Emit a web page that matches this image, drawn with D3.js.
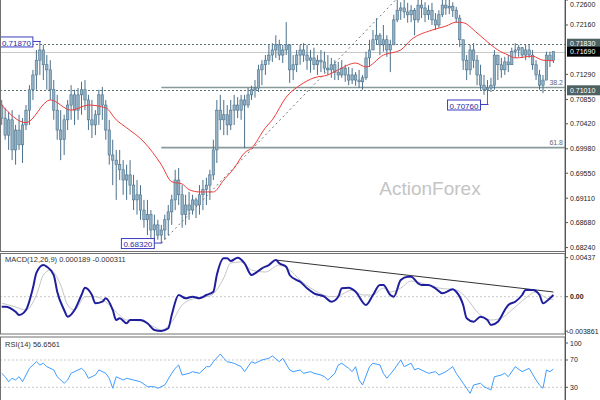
<!DOCTYPE html>
<html><head><meta charset="utf-8">
<script src="https://cdn.jsdelivr.net/npm/d3@7"></script>
<style>
  html,body{margin:0;padding:0;background:#fff;}
  svg{display:block;font-family:"Liberation Sans",Arial,sans-serif;}
</style></head>
<body>
<svg id="chart" width="600" height="400"></svg>
<script>
/* ---------- DATA ---------- */
const firstOpen = 0.7075;
const highs = [
 .7084,.7070,.7063,.7066,.7040,.7058,.7052,.7075,.7110,.7137,
 .7172,.7187,.7181,.7163,.7154,.7119,.7093,.7066,.7058,.7084,
 .7110,.7102,.7105,.7116,.7119,.7093,.7084,.7066,.7102,.7107,
 .7084,.7049,.7014,.6996,.6996,.6978,.6970,.6978,.6952,.6943,
 .6934,.6908,.6908,.6890,.6882,.6873,.6864,.6882,.6899,.6917,
 .6961,.6964,.6934,.6917,.6922,.6917,.6912,.6934,.6943,.6947,
 .6961,.7014,.7084,.7093,.7084,.7075,.7084,.7093,.7089,.7093,
 .7093,.7105,.7109,.7119,.7146,.7154,.7163,.7181,.7184,.7198,
 .7190,.7181,.7221,.7172,.7163,.7172,.7181,.7184,.7181,.7172,
 .7176,.7163,.7172,.7169,.7163,.7158,.7154,.7151,.7154,.7146,
 .7142,.7140,.7133,.7137,.7128,.7169,.7190,.7207,.7228,.7202,
 .7216,.7198,.7190,.7234,.7260,.7256,.7263,.7255,.7251,.7246,
 .7262,.7265,.7256,.7251,.7255,.7237,.7242,.7264,.7268,.7266,
 .7256,.7248,.7234,.7190,.7163,.7181,.7184,.7163,.7146,.7128,
 .7119,.7123,.7172,.7163,.7158,.7160,.7163,.7176,.7184,.7181,
 .7177,.7181,.7181,.7172,.7154,.7137,.7128,.7169,.7169,.7169];
const lows = [
 .7040,.7014,.6996,.6978,.6970,.6996,.6973,.7031,.7040,.7084,
 .7102,.7128,.7119,.7102,.7084,.7049,.7014,.6978,.6987,.7031,
 .7049,.7040,.7049,.7058,.7066,.7031,.7017,.7022,.7040,.7049,
 .7014,.6970,.6934,.6908,.6943,.6917,.6908,.6917,.6890,.6882,
 .6873,.6859,.6846,.6841,.6834,.6838,.6832,.6838,.6846,.6864,
 .6890,.6899,.6859,.6864,.6873,.6882,.6876,.6882,.6890,.6899,
 .6908,.6943,.6973,.7031,.7022,.7022,.7031,.7040,.7052,.7049,
 .6999,.7070,.7084,.7088,.7098,.7110,.7128,.7146,.7151,.7158,
 .7154,.7149,.7163,.7114,.7119,.7133,.7146,.7151,.7137,.7132,
 .7137,.7128,.7133,.7132,.7128,.7123,.7119,.7119,.7123,.7116,
 .7110,.7112,.7109,.7105,.7102,.7119,.7142,.7172,.7181,.7163,
 .7169,.7160,.7133,.7181,.7221,.7225,.7228,.7220,.7221,.7198,
 .7220,.7228,.7221,.7225,.7216,.7207,.7211,.7230,.7234,.7235,
 .7230,.7220,.7177,.7137,.7119,.7128,.7140,.7110,.7102,.7093,
 .7076,.7098,.7102,.7119,.7123,.7128,.7133,.7151,.7158,.7160,
 .7158,.7154,.7158,.7137,.7119,.7102,.7096,.7119,.7142,.7149];
const closes = [
 .7052,.7022,.7049,.6996,.7031,.7005,.7040,.7066,.7102,.7128,
 .7154,.7172,.7146,.7137,.7102,.7066,.7031,.7014,.7049,.7075,
 .7093,.7066,.7093,.7102,.7084,.7049,.7040,.7058,.7093,.7075,
 .7031,.6987,.6978,.6970,.6961,.6943,.6952,.6934,.6908,.6917,
 .6890,.6873,.6882,.6855,.6864,.6846,.6855,.6873,.6887,.6908,
 .6943,.6917,.6882,.6899,.6890,.6908,.6899,.6917,.6926,.6934,
 .6952,.6996,.7066,.7049,.7058,.7040,.7066,.7075,.7066,.7084,
 .7075,.7093,.7102,.7105,.7137,.7146,.7154,.7163,.7172,.7181,
 .7163,.7172,.7181,.7137,.7146,.7163,.7172,.7163,.7154,.7158,
 .7146,.7154,.7151,.7140,.7137,.7146,.7133,.7128,.7140,.7128,
 .7119,.7128,.7119,.7116,.7123,.7158,.7172,.7190,.7198,.7181,
 .7190,.7172,.7181,.7225,.7242,.7246,.7239,.7234,.7242,.7225,
 .7251,.7246,.7234,.7242,.7225,.7216,.7234,.7251,.7246,.7249,
 .7242,.7228,.7190,.7154,.7137,.7172,.7154,.7128,.7110,.7102,
 .7105,.7110,.7163,.7146,.7137,.7151,.7146,.7169,.7172,.7176,
 .7163,.7172,.7163,.7146,.7128,.7110,.7119,.7163,.7154,.7169];

// moving average (bar index, price)
const maPts = [[0,.7075],[7,.7044],[14,.7084],[20,.7066],[25,.7075],[30,.7070],[33,.7049],[36,.7035],
 [41,.7010],[46,.6970],[49,.6940],[52,.6936],[54,.6926],[57,.6922],[61,.6922],[64,.6943],[67,.6964],
 [70,.6991],[72,.6999],[76,.7035],[78,.7049],[82,.7089],[86,.7110],[90,.7123],[94,.7128],[97,.7137],
 [102,.7149],[105,.7142],[110,.7163],[115,.7172],[118,.7190],[124,.7207],[128,.7214],[131,.7221],
 [133,.7220],[137,.7202],[141,.7181],[143,.7172],[146,.7163],[148,.7158],[153,.7161],[156,.7154],[159,.7153]];

const macdPts = [[0,-.00112],[1,-.00112],[4,-.00168],[5,-.00205],[7,-.00149],[9,.00097],[10,.00266],
 [12,.00355],[13,.00336],[15,.00243],[16,.00056],[18,-.00149],[19,-.00224],[21,-.00149],[23,.00019],
 [24,.00101],[26,.00019],[27,-.00074],[29,-.00056],[30,-.00018],[32,-.00149],[33,-.00261],[34,-.00242],
 [36,-.00298],[37,-.00261],[40,-.00261],[42,-.00298],[44,-.00373],[46,-.00384],[48,-.00354],[49,-.00205],
 [51,.00019],[53,-.00018],[55,0],[57,-.00018],[59,.00019],[61,.00056],[62,.00243],[64,.0043],[65,.0043],
 [66,.0040],[68,.00437],[70,.00374],[72,.00243],[73,.00262],[75,.00318],[77,.00355],[79,.00411],
 [80,.00374],[82,.00336],[83,.00243],[85,.00187],[86,.00168],[88,.00094],[90,.00038],[93,0],[95,-.00056],
 [97,0],[98,.00094],[100,.00101],[102,.00056],[105,-.00093],[107,.00019],[109,.00131],[110,.00131],
 [112,.00019],[113,0],[115,.00187],[117,.00224],[118,.00224],[120,.0015],[121,.00131],[123,.00131],
 [125,.00094],[127,.00038],[130,.00083],[131,.00056],[133,-.00093],[134,-.00242],[136,-.0028],
 [138,-.00224],[140,-.00261],[141,-.00317],[143,-.0028],[145,-.00149],[146,-.00093],[148,-.00056],
 [150,.00019],[151,.00075],[153,.00075],[155,.00019],[156,-.00074],[158,-.00018],[159,.000189]];
const signalPts = [[0,-.00071],[4,-.00115],[7,-.00149],[10,.00019],[12,.00243],[14,.00299],[17,.00131],
 [19,-.00093],[21,-.00149],[24,0],[27,0],[30,-.00059],[33,-.00171],[36,-.00261],[40,-.00272],[44,-.0034],
 [46,-.00373],[49,-.00283],[52,-.00093],[56,-.00015],[60,.00008],[64,.0021],[66,.00378],[69,.00389],
 [72,.00299],[76,.00277],[80,.00355],[83,.00299],[86,.00187],[90,.00075],[95,0],[97,.00008],[101,.00075],
 [104,.00019],[107,.00019],[110,.00097],[112,.00053],[115,.00097],[118,.00176],[122,.00142],[126,.00097],
 [131,.00075],[134,-.00015],[137,-.0017],[141,-.00261],[144,-.00239],[147,-.00149],[151,-.00015],
 [154,.00053],[157,-.00015],[159,-.000311]];
const macdTrend = [[79,.00411],[159,.00053]];

const rsiPts = [[0,50.5],[1,45.5],[2,38.2],[3,43.2],[4,40.7],[5,45.5],[6,38.2],[7,48.0],[8,57.8],[9,62.7],
 [10,67.5],[11,62.7],[12,65.2],[13,60.2],[15,55.4],[16,45.5],[18,35.9],[19,40.7],[20,50.5],[22,55.4],
 [23,57.8],[24,52.9],[25,43.2],[27,48.0],[28,55.4],[30,50.5],[31,43.2],[32,28.6],[33,45.5],[35,40.7],
 [36,43.2],[38,40.7],[40,38.2],[42,30.9],[44,30.9],[45,28.6],[47,33.4],[49,50.5],[50,57.8],[51,62.7],
 [52,48.0],[54,50.5],[55,52.9],[57,50.5],[59,60.2],[60,60.2],[61,67.5],[63,78.8],[64,72.5],[65,67.5],
 [67,65.2],[69,60.2],[70,52.9],[72,67.5],[73,65.2],[75,70],[77,72.5],[78,75.9],[80,67.5],[81,72.5],
 [83,55.4],[84,52.9],[86,55.4],[87,50.5],[89,52.9],[90,50.5],[92,48.0],[93,45.5],[94,40.7],[96,50.5],
 [97,62.7],[98,65.2],[100,57.8],[101,52.9],[102,60.2],[103,40.7],[104,33.4],[106,60.2],[107,65.2],
 [109,62.7],[110,50.5],[111,43.2],[113,55.4],[115,70],[116,60.2],[118,65.2],[119,55.4],[120,57.8],
 [122,52.9],[123,50.5],[125,52.9],[126,48.0],[128,52.9],[130,60.2],[131,50.5],[133,35.9],[134,28.6],
 [135,21.2],[136,33.4],[138,35.9],[139,30.9],[141,26.1],[142,45.5],[144,48.0],[145,50.5],[146,45.5],
 [148,60.2],[150,52.9],[152,57.8],[154,40.7],[155,33.4],[156,28.6],[157,55.4],[158,52.9],[159,56.66]];

const priceTicks = [0.72600,0.72160,0.71290,0.70850,0.70420,0.69980,0.69550,0.69110,0.68680,0.68240];
const dashedLevels = [0.71830,0.71010];
const lastPrice = 0.71690;
const fibLevels = [["38.2",0.7106],["61.8",0.7000]];
const fibStartBar = 46;
const trendPts = [[46,0.6832],[114,0.7263]];
const swingLabels = [[11,0.7187,"0.71870"],[46,0.6832,"0.68320"],[140,0.7076,"0.70760"]];
const macdTicks = [["0.00437",0.00437],["0.00",0],["-0.003861",-0.003861]];
const rsiTicks = [100,70,30];
const rsiLevels = [70,30];
const macdTitle = "MACD(12,26,9) 0.000189 -0.000311";
const rsiTitle  = "RSI(14) 56.6561";

/* ---------- LAYOUT ---------- */
const AX = 565;                       // right price axis
const P_MAIN=[0,251], P_MACD=[253,333.5], P_RSI=[336.5,400];

const svg = d3.select("#chart");
const x   = d3.scaleLinear().domain([0,closes.length-1]).range([1.7,553.4]);
const yP  = d3.scaleLinear().domain([0.6818,0.7260]).range([251,0]);
const yM  = d3.scaleLinear().domain([-0.00418,0.00501]).range([334,252]);
const yR  = d3.scaleLinear().domain([0,100]).range([407.8,339.5]);

const defs = svg.append("defs");
[["cMain",P_MAIN],["cMacd",P_MACD],["cRsi",P_RSI]].forEach(([id,[a,b]])=>{
  defs.append("clipPath").attr("id",id).append("rect")
    .attr("x",1).attr("y",a).attr("width",AX-1).attr("height",b-a);
});

/* ---------- MAIN PANEL ---------- */
const gM = svg.append("g").attr("clip-path","url(#cMain)");

gM.append("text").attr("x",430).attr("y",195).attr("text-anchor","middle")
  .style("font-size","19px").attr("fill","#c4c4c4").text("ActionForex");

gM.selectAll("line.dlev").data(dashedLevels).join("line").attr("class","dlev")
  .attr("x1",0).attr("x2",AX).attr("y1",d=>Math.round(yP(d))+.5).attr("y2",d=>Math.round(yP(d))+.5)
  .attr("stroke","#5a7272").attr("stroke-dasharray","2,2");

gM.append("line").attr("x1",0).attr("x2",AX)
  .attr("y1",Math.round(yP(lastPrice))+.5).attr("y2",Math.round(yP(lastPrice))+.5)
  .attr("stroke","#c8c8c8");

gM.selectAll("line.fib").data(fibLevels).join("line").attr("class","fib")
  .attr("x1",x(fibStartBar)).attr("x2",AX).attr("y1",d=>yP(d[1])).attr("y2",d=>yP(d[1]))
  .attr("stroke","#889a9a").attr("stroke-width",1.6);
gM.selectAll("text.fib").data(fibLevels).join("text").attr("class","fib")
  .attr("x",AX-2).attr("y",d=>yP(d[1])-2.5).attr("text-anchor","end")
  .style("font-size","7px").attr("fill","#667").text(d=>d[0]);

gM.append("line")
  .attr("x1",x(trendPts[0][0])).attr("y1",yP(trendPts[0][1]))
  .attr("x2",x(trendPts[1][0])).attr("y2",yP(trendPts[1][1]))
  .attr("stroke","#777").attr("stroke-dasharray","2,3");

/* candles: open = previous close */
const bars = closes.map((c,i)=>({i,o:i?closes[i-1]:firstOpen,h:highs[i],l:lows[i],c}));
gM.selectAll("line.wick").data(bars).join("line").attr("class","wick")
  .attr("x1",d=>x(d.i)).attr("x2",d=>x(d.i))
  .attr("y1",d=>yP(Math.max(d.h,d.o,d.c))).attr("y2",d=>yP(Math.min(d.l,d.o,d.c)))
  .attr("stroke","#4b718b").attr("stroke-width",1);
gM.selectAll("rect.body").data(bars).join("rect").attr("class","body")
  .attr("x",d=>x(d.i)-1.2).attr("width",2.4)
  .attr("y",d=>yP(Math.max(d.o,d.c)))
  .attr("height",d=>Math.max(1,Math.abs(yP(d.o)-yP(d.c))))
  .attr("fill","#93b2c6").attr("stroke","#4b718b").attr("stroke-width",0.6);

gM.append("path").datum(maPts)
  .attr("d",d3.line().curve(d3.curveMonotoneX).x(d=>x(d[0])).y(d=>yP(d[1])))
  .attr("fill","none").attr("stroke","#f03c3c").attr("stroke-width",1);

/* swing labels */
swingLabels.forEach(([i,p,t])=>{
  const right=x(i)-7, yy=yP(p);
  gM.append("line").attr("x1",right).attr("x2",x(i)+1).attr("y1",yy).attr("y2",yy)
    .attr("stroke","#3c3cc0");
  const tx=gM.append("text").attr("x",right-2).attr("y",yy+4.2).attr("text-anchor","end")
    .style("font-size","8px").attr("fill","#2a2aa0").text(t);
  const w=tx.node().getComputedTextLength();
  gM.insert("rect","text:last-of-type").attr("x",right-w-4).attr("y",yy-4.5)
    .attr("width",w+4).attr("height",10).attr("fill","#fff").attr("stroke","#3c3cc0");
  tx.raise();
});

/* ---------- MACD PANEL ---------- */
const gD = svg.append("g").attr("clip-path","url(#cMacd)");
gD.append("line").attr("x1",0).attr("x2",AX).attr("y1",yM(0)).attr("y2",yM(0))
  .attr("stroke","#c8c8c8").attr("stroke-dasharray","2,2");
const lnM = d3.line().curve(d3.curveMonotoneX).x(d=>x(d[0])).y(d=>yM(d[1]));
gD.append("path").datum(signalPts).attr("d",lnM)
  .attr("fill","none").attr("stroke","#c4c4c4").attr("stroke-width",1);
gD.append("path").datum(macdTrend).attr("d",d3.line().x(d=>x(d[0])).y(d=>yM(d[1])))
  .attr("fill","none").attr("stroke","#333").attr("stroke-width",1);
gD.append("path").datum(macdPts).attr("d",lnM)
  .attr("fill","none").attr("stroke","#1f1f9e").attr("stroke-width",2);
svg.append("text").attr("x",5).attr("y",262).style("font-size","7.5px")
  .attr("fill","#333").text(macdTitle);

/* ---------- RSI PANEL ---------- */
const gR = svg.append("g").attr("clip-path","url(#cRsi)");
gR.selectAll("line.lev").data(rsiLevels).join("line").attr("class","lev")
  .attr("x1",0).attr("x2",AX).attr("y1",d=>yR(d)).attr("y2",d=>yR(d))
  .attr("stroke","#c8c8c8").attr("stroke-dasharray","2,2");
gR.append("path").datum(rsiPts)
  .attr("d",d3.line().x(d=>x(d[0])).y(d=>yR(d[1])))
  .attr("fill","none").attr("stroke","#3f9cff").attr("stroke-width",1);
svg.append("text").attr("x",5).attr("y",347).style("font-size","7.5px")
  .attr("fill","#333").text(rsiTitle);

/* ---------- FRAMES ---------- */
[[P_MAIN[0]-1,P_MAIN[1]],[P_MACD[0],P_MACD[1]],[P_RSI[0],P_RSI[1]+5]].forEach(([a,b])=>{
  svg.append("rect").attr("x",0.5).attr("y",a+.5).attr("width",AX-0.5).attr("height",b-a)
    .attr("fill","none").attr("stroke","#707070");
});

/* ---------- RIGHT AXIS ---------- */
const gA = svg.append("g").style("font-size","7px").attr("fill","#222");
const yTick = p=>Math.max(yP(p),4);      // keep the top label inside the window
gA.selectAll("line.tk").data(priceTicks).join("line").attr("class","tk")
  .attr("x1",AX).attr("x2",AX+3).attr("y1",d=>yP(d)).attr("y2",d=>yP(d)).attr("stroke","#555");
gA.selectAll("text.pt").data(priceTicks).join("text").attr("class","pt")
  .attr("x",AX+5).attr("y",d=>yTick(d)+2.5).text(d=>d.toFixed(5));

const boxes = [[dashedLevels[0],"#4f6262"],[lastPrice,"#000"],[dashedLevels[1],"#4f6262"]];
boxes.forEach(([p,col])=>{
  gA.append("rect").attr("x",AX+2).attr("y",yP(p)-5).attr("width",600-AX-2).attr("height",10)
    .attr("fill",col);
  gA.append("text").attr("x",AX+5).attr("y",yP(p)+2.5).attr("fill","#fff").text(p.toFixed(5));
});

gA.selectAll("text.mt").data(macdTicks).join("text").attr("class","mt")
  .attr("x",d=>d[1]<0?AX+2:AX+5).attr("y",d=>yM(d[1])+2.5)
  .style("font-weight",d=>d[1]===0?"bold":"normal").text(d=>d[0]);
gA.selectAll("line.mk").data(macdTicks).join("line").attr("class","mk")
  .attr("x1",AX).attr("x2",AX+3).attr("y1",d=>yM(d[1])).attr("y2",d=>yM(d[1])).attr("stroke","#555");

gA.selectAll("text.rt").data(rsiTicks).join("text").attr("class","rt")
  .attr("x",AX+5).attr("y",d=>Math.max(yR(d),343)+2.5).text(d=>d);
gA.selectAll("line.rk").data(rsiTicks).join("line").attr("class","rk")
  .attr("x1",AX).attr("x2",AX+3).attr("y1",d=>Math.max(yR(d),343)).attr("y2",d=>Math.max(yR(d),343))
  .attr("stroke","#555");

svg.append("line").attr("x1",AX+.5).attr("x2",AX+.5).attr("y1",0).attr("y2",400)
  .attr("stroke","#555");
</script>
</body></html>
